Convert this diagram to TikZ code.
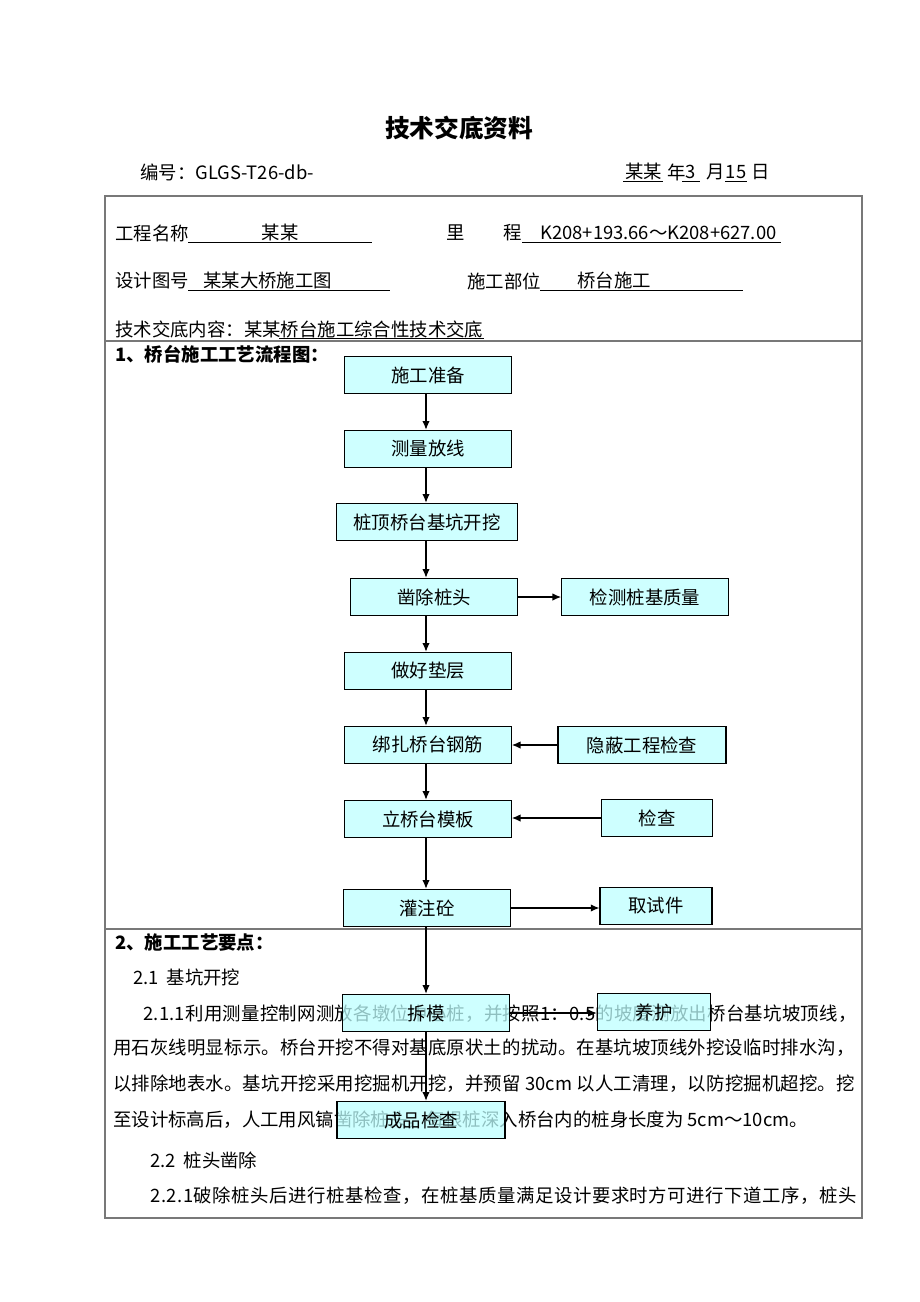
\documentclass[tikz,border=0pt]{standalone}
\usepackage{fontspec}
\usetikzlibrary{arrows.meta}
\setmainfont{Noto Sans CJK SC}
\definecolor{boxcyan}{RGB}{190,255,255}
\definecolor{tblgray}{RGB}{120,120,120}
\ExplSyntaxOn
\NewDocumentCommand\spreadline{mm}{\hbox~to~#1{\tl_map_inline:nn{#2}{##1\hskip~0pt~plus~1fil}\unskip}}
\ExplSyntaxOff

\begin{document}
\begin{tikzpicture}[x=0.75pt, y=-0.75pt, >={Latex[length=6.5pt, width=5.5pt]},
  every node/.style={inner sep=0pt, font=\fontsize{13.8}{16}\selectfont},
  box/.style={draw, line width=0.8pt, fill=boxcyan, fill opacity=0.75, text opacity=1,
    minimum width=125pt, minimum height=28pt},
  txt/.style={anchor=west},
  head/.style={anchor=west, font=\fontsize{13.8}{16}\selectfont\bfseries},
  uline/.style={line width=0.6pt},
  tbl/.style={draw=tblgray, line width=0.8pt},
  flow/.style={->, line width=0.9pt}]
  \useasboundingbox (0,0) rectangle (920,1302);
  % heading
  \node[font=\fontsize{18.5}{20}\selectfont\bfseries] (title) at (459,128) {技术交底资料};
  \node[txt] (code) at (140,172) {编号：GLGS-T26-db-};
  \node[txt] (dyear) at (625,172) {某某};
  \node[txt] (nian) at (667,172) {年};
  \node (dmonth) at (691,172) {3};
  \node[txt] (yue) at (706,172) {月};
  \node (dday) at (736,172) {15};
  \node[txt] (ri) at (751,172) {日};
  \draw[uline] (623,181) -- (663,181) (682,181) -- (700,181) (725,181) -- (747,181);
  % table
  \draw[tbl] (105,196) rectangle (862,1218);
  \draw[tbl] (105,341) -- (862,341) (105,929) -- (862,929);
  \node[txt] (pname) at (115,233) {工程名称};
  \node (pval) at (280,233) {某某};
  \node (li) at (456,233) {里};
  \node (cheng) at (513,233) {程};
  \node[txt] (kval) at (540,233) {K208+193.66～K208+627.00};
  \draw[uline] (188,242) -- (372,242) (522,242) -- (781,242);
  \node[txt] (dwg) at (115,281) {设计图号};
  \node[txt] (dwgval) at (203,281) {某某大桥施工图};
  \node[txt] (part) at (467,281) {施工部位};
  \node[txt] (partval) at (577,281) {桥台施工};
  \draw[uline] (188,290) -- (390,290) (540,290) -- (743,290);
  \node[txt] (content) at (115,329) {技术交底内容：某某桥台施工综合性技术交底};
  \draw[uline] (279,338) -- (484,338);
  \node[head] (sec1) at (115,354) {1、桥台施工工艺流程图：};
  % section 2 text
  \node[head] (sec2) at (115,942) {2、施工工艺要点：};
  \node[txt] (s21) at (133,977) {2.1\hspace{6pt}基坑开挖};
  \node[txt] (p1) at (143,1014) {\spreadline{535pt}{2.1.1利用测量控制网测放各墩位中心桩，并按照1：0.5的坡度测放出桥台基坑坡顶线，}};
  \node[txt] (p2) at (113,1048) {\spreadline{556pt}{用石灰线明显标示。桥台开挖不得对基底原状土的扰动。在基坑坡顶线外挖设临时排水沟，}};
  \node[txt] (p3) at (113,1084) {\spreadline{556pt}{以排除地表水。基坑开挖采用挖掘机开挖，并预留~30cm~以人工清理，以防挖掘机超挖。挖}};
  \node[txt] (p4) at (113,1120) {至设计标高后，人工用风镐凿除桩头，每根桩深入桥台内的桩身长度为\hspace{3pt}5cm～10cm。};
  \node[txt] (s22) at (150,1160) {2.2\hspace{6pt}桩头凿除};
  \node[txt] (p5) at (150,1196) {\spreadline{530pt}{2.2.1破除桩头后进行桩基检查，在桩基质量满足设计要求时方可进行下道工序，桩头}};
  % flow chart
  \node[box] (prep) at (428,375) {施工准备};
  \node[box] (survey) at (428,449) {测量放线};
  \node[box, minimum width=136pt] (dig) at (427,522) {桩顶桥台基坑开挖};
  \node[box] (chisel) at (434,597) {凿除桩头};
  \node[box] (pilecheck) at (645,597) {检测桩基质量};
  \node[box] (cushion) at (428,671) {做好垫层};
  \node[box] (rebar) at (428,745) {绑扎桥台钢筋};
  \node[box, minimum width=126pt] (hidden) at (642,745) {隐蔽工程检查};
  \node[box] (form) at (428,819) {立桥台模板};
  \node[box, minimum width=83pt] (check) at (657,818) {检查};
  \node[box] (pour) at (427,908) {灌注砼};
  \node[box, minimum width=84pt] (sample) at (656,906) {取试件};
  \node[box] (strip) at (426,1013) {拆模};
  \node[box, minimum width=85pt] (cure) at (654,1012) {养护};
  \node[box, minimum width=126pt] (final) at (421,1120) {成品检查};
  \coordinate (axis) at (426,0);
  \draw[flow] (axis |- prep.south) -- (axis |- survey.north);
  \draw[flow] (axis |- survey.south) -- (axis |- dig.north);
  \draw[flow] (axis |- dig.south) -- (axis |- chisel.north);
  \draw[flow] (axis |- chisel.south) -- (axis |- cushion.north);
  \draw[flow] (chisel.east) -- (pilecheck.west);
  \draw[flow] (axis |- cushion.south) -- (axis |- rebar.north);
  \draw[flow] (hidden.west) -- (rebar.east);
  \draw[flow] (axis |- rebar.south) -- (axis |- form.north);
  \draw[flow] (check.west) -- (check.west -| form.east);
  \draw[flow] (axis |- form.south) -- (axis |- pour.north);
  \draw[flow] (pour.east) -- (pour.east -| sample.west);
  \draw[flow] (axis |- pour.south) -- (axis |- strip.north);
  \draw[flow] (strip.east) -- (strip.east -| cure.west);
  \draw[flow] (axis |- strip.south) -- (axis |- final.north);
\end{tikzpicture}
\end{document}
